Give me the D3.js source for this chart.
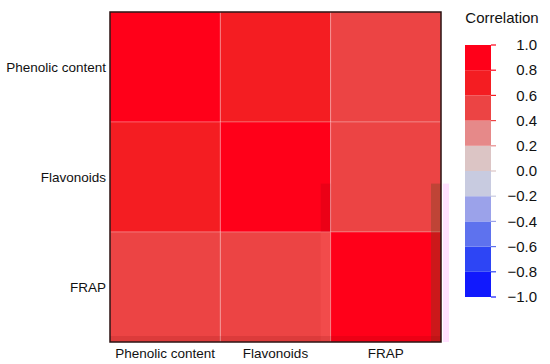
<!DOCTYPE html>
<html><head><meta charset="utf-8">
<script src="https://cdn.jsdelivr.net/npm/d3@7"></script>
<style>body{margin:0;background:#fff;}text{font-family:"Liberation Sans",Arial,Helvetica,sans-serif;fill:#111;}</style>
</head><body>
<script>
const variables = ["Phenolic content", "Flavonoids", "FRAP"];
const corrRows = [
  [1.00, 0.78, 0.55],
  [0.78, 1.00, 0.56],
  [0.55, 0.56, 1.00]
];
const legendTicks = [1.0, 0.8, 0.6, 0.4, 0.2, 0.0, -0.2, -0.4, -0.6, -0.8, -1.0];
const binColors = ["#1119fd","#2d45f5","#5e72ee","#9ba2ea","#c8cbe0","#dcc5c5","#e68989","#ec4444","#f41d22","#ff0019"];

const W = 550, H = 364;
const svg = d3.select("body").append("svg").attr("width", W).attr("height", H);

const x = d3.scaleBand().domain(variables).range([110, 441]);
const y = d3.scaleBand().domain(variables).range([12, 342]);
const color = d3.scaleQuantize().domain([-1, 1]).range(binColors);

const cells = [];
corrRows.forEach((row, i) => row.forEach((v, j) => cells.push({r: variables[i], c: variables[j], v})));

svg.append("g").selectAll("rect").data(cells).join("rect")
  .attr("x", d => x(d.c)).attr("y", d => y(d.r))
  .attr("width", x.bandwidth()).attr("height", y.bandwidth())
  .attr("fill", d => color(Math.min(d.v, 0.9999)))
  .attr("stroke", "rgba(255,255,255,0.25)").attr("stroke-width", 1);

// faint scan artefacts seen in the reference image
const midY = y("Flavonoids") + y.bandwidth() * 0.56;
const right = x.range()[1], bottom = y.range()[1];
svg.append("rect").attr("x", right - 10).attr("y", midY).attr("width", 10).attr("height", bottom - midY)
  .attr("fill", "rgba(110,70,30,0.35)");
svg.append("rect").attr("x", right + 2).attr("y", midY).attr("width", 6).attr("height", bottom - midY)
  .attr("fill", "rgba(255,205,255,0.6)");
svg.append("rect").attr("x", x("FRAP") - 10).attr("y", midY).attr("width", 10).attr("height", y("FRAP") - midY)
  .attr("fill", "rgba(60,0,0,0.1)");
svg.append("rect").attr("x", x("FRAP") - 10).attr("y", y("FRAP")).attr("width", 10).attr("height", bottom - y("FRAP"))
  .attr("fill", "rgba(255,90,90,0.35)");
svg.append("rect").attr("x", x.range()[0]).attr("y", bottom - 6).attr("width", right - x.range()[0]).attr("height", 6)
  .attr("fill", "rgba(110,0,0,0.12)");

svg.append("rect").attr("x", 110).attr("y", 12).attr("width", 331).attr("height", 330)
  .attr("fill", "none").attr("stroke", "#2a1010").attr("stroke-width", 1.5);

// axis labels
svg.append("g").selectAll("text").data(variables).join("text")
  .attr("x", 106).attr("y", d => y(d) + y.bandwidth() / 2).attr("dy", "0.35em")
  .attr("text-anchor", "end").style("font-size", "13.5px").text(d => d);
svg.append("g").selectAll("text").data(variables).join("text")
  .attr("x", d => x(d) + x.bandwidth() / 2).attr("y", 358)
  .attr("text-anchor", "middle").style("font-size", "13.5px").text(d => d);

// legend
const ly = d3.scaleLinear().domain([1, -1]).range([45, 297]);
const lg = svg.append("g");
const bins = binColors.map((c, i) => ({lo: -1 + i * 0.2, hi: -1 + (i + 1) * 0.2, c}));
lg.selectAll("rect").data(bins).join("rect")
  .attr("x", 465).attr("width", 26)
  .attr("y", d => ly(d.hi)).attr("height", d => ly(d.lo) - ly(d.hi))
  .attr("fill", d => d.c);
lg.selectAll("line").data(legendTicks).join("line")
  .attr("x1", 491).attr("x2", 496)
  .attr("y1", d => ly(d)).attr("y2", d => ly(d))
  .attr("stroke", d => color(Math.max(-0.9999, Math.min(0.9999, d))) ).attr("stroke-width", 1.2);
lg.selectAll("text").data(legendTicks).join("text")
  .attr("x", 537).attr("y", d => ly(d)).attr("dy", "0.35em")
  .attr("text-anchor", "end").style("font-size", "15px")
  .text(d => d3.format(".1f")(d).replace("-", "\u2212"));
svg.append("text").attr("x", 502).attr("y", 23).attr("text-anchor", "middle")
  .style("font-size", "15px").text("Correlation");
</script>
</body></html>
